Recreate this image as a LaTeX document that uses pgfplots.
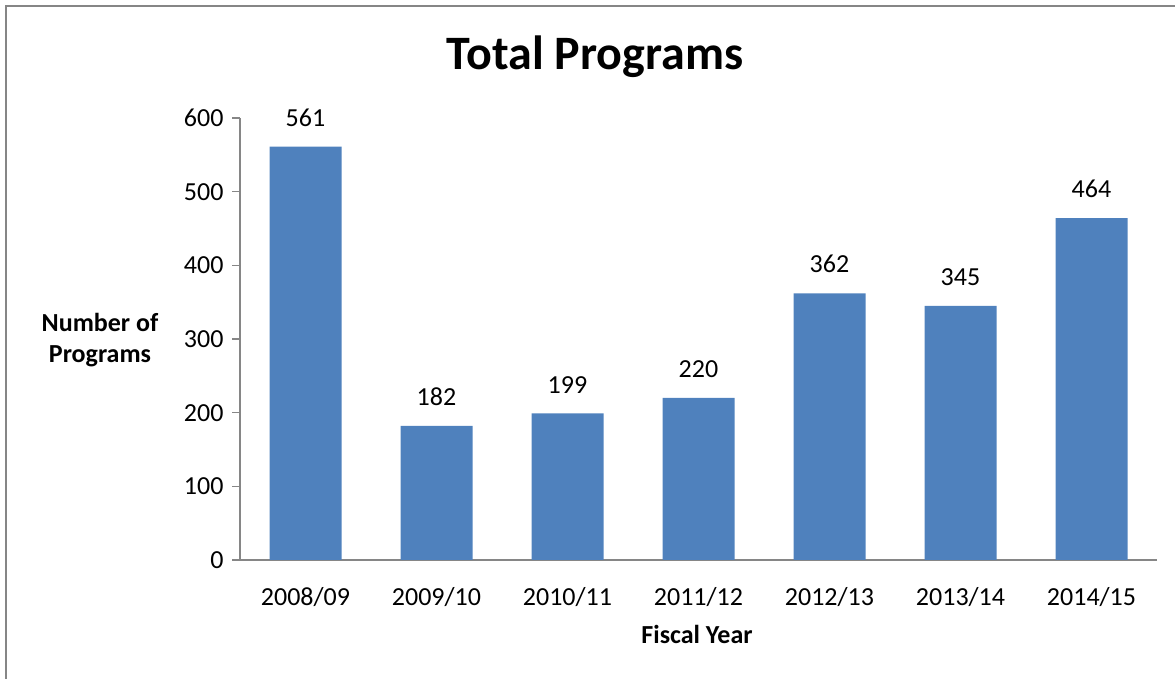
\documentclass[border=0pt]{standalone}
\usepackage{pgfplots}
\pgfplotsset{compat=1.18}
\usepackage{fontspec}
\setmainfont{Carlito}
\definecolor{barblue}{HTML}{4F81BD}
\definecolor{axgray}{HTML}{868686}
\begin{document}
\begin{tikzpicture}[x=1pt,y=1pt]
\path[use as bounding box] (0,0) rectangle (1175,679);
\draw[axgray,line width=2pt] (6,0) -- (6,673) -- (1175,673);
\begin{axis}[
  at={(240pt,119pt)}, anchor=south west,
  scale only axis, width=917pt, height=442pt,
  axis lines*=left,
  axis line style={axgray,line width=1.3pt},
  xmin=-0.5, xmax=6.5, ymin=0, ymax=600,
  ytick={0,100,...,600},
  xtick={0,...,6},
  xticklabels={2008/09,2009/10,2010/11,2011/12,2012/13,2013/14,2014/15},
  minor xtick={-0.5,0.5,...,6.5},
  tick align=outside,
  major tick length=8pt, minor tick length=8pt,
  xtick style={draw=none},
  minor x tick style={axgray,line width=1.3pt},
  y tick style={axgray,line width=1.3pt},
  tick label style={font=\fontsize{26}{30}\selectfont, text=black},
  /pgf/number format/assume math mode=true,
  xticklabel style={yshift=-16pt},
  yticklabel style={xshift=-5pt},
  ybar, bar width=72pt,
  nodes near coords,
  every node near coord/.append style={font=\fontsize{26}{30}\selectfont, anchor=south, inner sep=0pt, yshift=20pt, text=black},
  clip=false,
]
\addplot[fill=barblue, draw=none] coordinates {(0,561) (1,182) (2,199) (3,220) (4,362) (5,345) (6,464)};
\end{axis}
\node[font=\fontsize{48}{56}\selectfont\bfseries] at (595,622) {Total Programs};
\node[font=\fontsize{26}{31}\selectfont\bfseries, align=center] at (100,339) {Number of\\Programs};
\node[font=\fontsize{26}{30}\selectfont\bfseries] at (697,45) {Fiscal Year};
\end{tikzpicture}
\end{document}
